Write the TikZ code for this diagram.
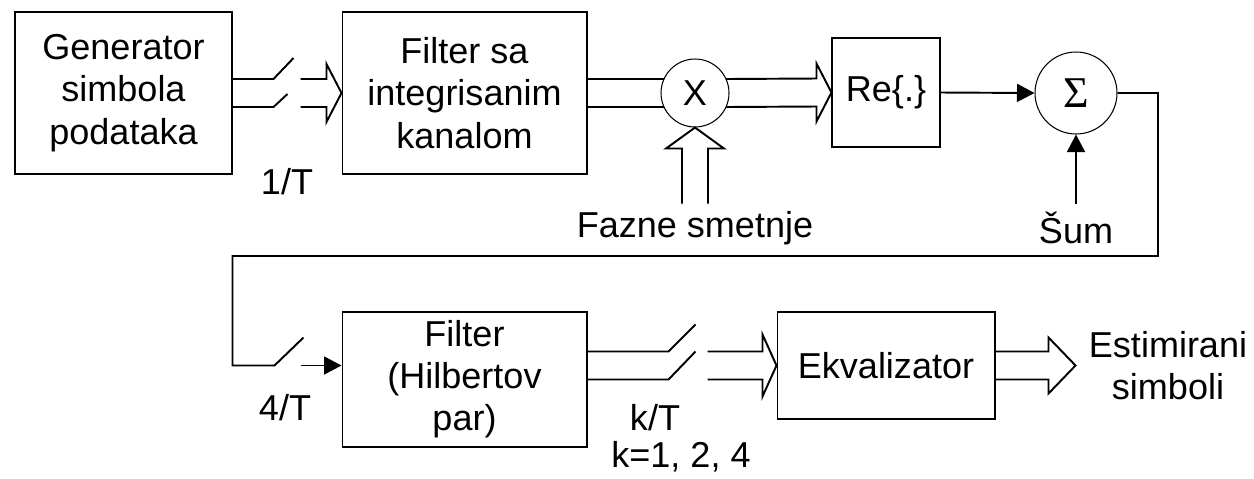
\documentclass[tikz,border=0pt]{standalone}
\usepackage{fontspec}
\setmainfont{Liberation Sans}
\newfontfamily\serifgreek{Liberation Serif}
\usetikzlibrary{positioning,calc,arrows.meta}

\tikzset{
  block/.style={draw, line width=0.6pt, align=center, inner sep=0pt},
  junction/.style={draw, circle, line width=0.6pt, inner sep=0pt},
  conn/.style={line width=1.1pt, line join=miter},
  sig/.style={conn, -{Triangle[length=0.35cm,width=0.36cm]}},
  lbl/.style={align=center, inner sep=0pt},
}

\begin{document}
\begin{tikzpicture}[x=0.02cm, y=-0.02cm, font=\fontsize{20.5}{24}\selectfont]
        \useasboundingbox (0,0) rectangle (1254,478);

        % Top row
        \node[block, minimum width=4.34cm, minimum height=3.24cm] (gen) at (123.5,93) {Generator\\simbola\\podataka};
        \node[block, minimum width=4.9cm, minimum height=3.24cm] (filt) at (464.5,93) {Filter sa\\integrisanim\\kanalom};
        \node[junction, minimum size=1.36cm] (mix) at (695,93) {X};
        \node[block, minimum width=2.16cm, minimum height=2.18cm] (re) at (886,92.5) {Re\{.\}};
        \node[junction, minimum size=1.64cm, font=\fontsize{25}{25}\serifgreek] (sum) at (1076,93) {Σ};

        % Bottom row
        \node[block, minimum width=4.9cm, minimum height=2.7cm] (hilb) at (464.5,379.5) {Filter\\(Hilbertov\\par)};
        \node[block, minimum width=4.36cm, minimum height=2.14cm] (ekv) at (886,365.5) {Ekvalizator};

        % Labels
        \node[lbl] (rate1) at (287,182) {1/T};
        \node[lbl] (fazne) at (695,228) {Fazne smetnje};
        \node[lbl] (noise) at (1076,228) {Šum};
        \node[lbl] (rate4) at (285,408) {4/T};
        \node[lbl] (ratek) at (655,418) {k/T};
        \node[lbl] (kvals) at (681,457) {k=1, 2, 4};
        \node[lbl] (est) at (1168,366) {Estimirani\\simboli};

        % Switch 1/T and wide arrow into the channel filter
        \draw[conn] ($(gen.east)+(0,-14)$) -- ++(41,0) -- ++(20,-21);
        \draw[conn] ($(gen.east)+(0,14)$) -- ++(41,0) -- ++(14,-13);
        \draw[conn] ($(filt.west)+(-41,-14)$) -- ++(26,0) -- ++(0,-15) -- (filt.west) -- ++(-15,29) -- ++(0,-15) -- ++(-26,0);

        % Filter to mixer, mixer to Re
        \draw[conn] ($(filt.east)+(0,-14)$) -- ($(mix.center)+(-31,-14)$);
        \draw[conn] ($(filt.east)+(0,14)$) -- ($(mix.center)+(-31,14)$);
        \draw[conn] ($(mix.center)+(31,-14)$) -- ($(re.west)+(-15,-14)$) -- ++(0,-15) -- (re.west) -- ++(-15,29) -- ++(0,-15) -- ($(mix.center)+(31,14)$);

        % Phase noise into mixer
        \draw[conn] ($(mix.south)+(-13,76)$) -- ++(0,-55) -- ++(-16,0) -- (mix.south) -- ++(29,21) -- ++(-16,0) -- ++(0,55);

        % Re to adder, noise
        \draw[sig] (re.east) -- (sum.west);
        \draw[sig] ($(sum.south)+(0,69)$) -- (sum.south);

        % Feedback to the second row with switch 4/T
        \coordinate (fb1) at (1158,256);
        \coordinate (fb2) at ($(hilb.west)+(-109,-14)$);
        \draw[conn] (sum.east) -| (fb1) -| (fb2) -- ++(42,0) -- ++(29,-28);
        \draw[sig] ($(hilb.west)+(-41,-14)$) -- ($(hilb.west)+(0,-14)$);

        % Switch k/T and wide arrow into the equalizer
        \draw[conn] ($(hilb.east |- ekv.west)+(0,-14)$) -- ++(81,0) -- ++(27,-27);
        \draw[conn] ($(hilb.east |- ekv.west)+(0,14)$) -- ++(81,0) -- ++(27,-28);
        \draw[conn] ($(ekv.west)+(-69,-14)$) -- ++(55,0) -- ++(0,-17) -- (ekv.west) -- ++(-14,31) -- ++(0,-17) -- ++(-55,0);

        % Output
        \coordinate (out) at ($(ekv.east)+(80,0)$);
        \draw[conn] ($(ekv.east)+(0,-14)$) -- ++(53,0) -- ++(0,-14) -- (out) -- ++(-27,28) -- ++(0,-14) -- ++(-53,0);
    \end{tikzpicture}
\end{document}
